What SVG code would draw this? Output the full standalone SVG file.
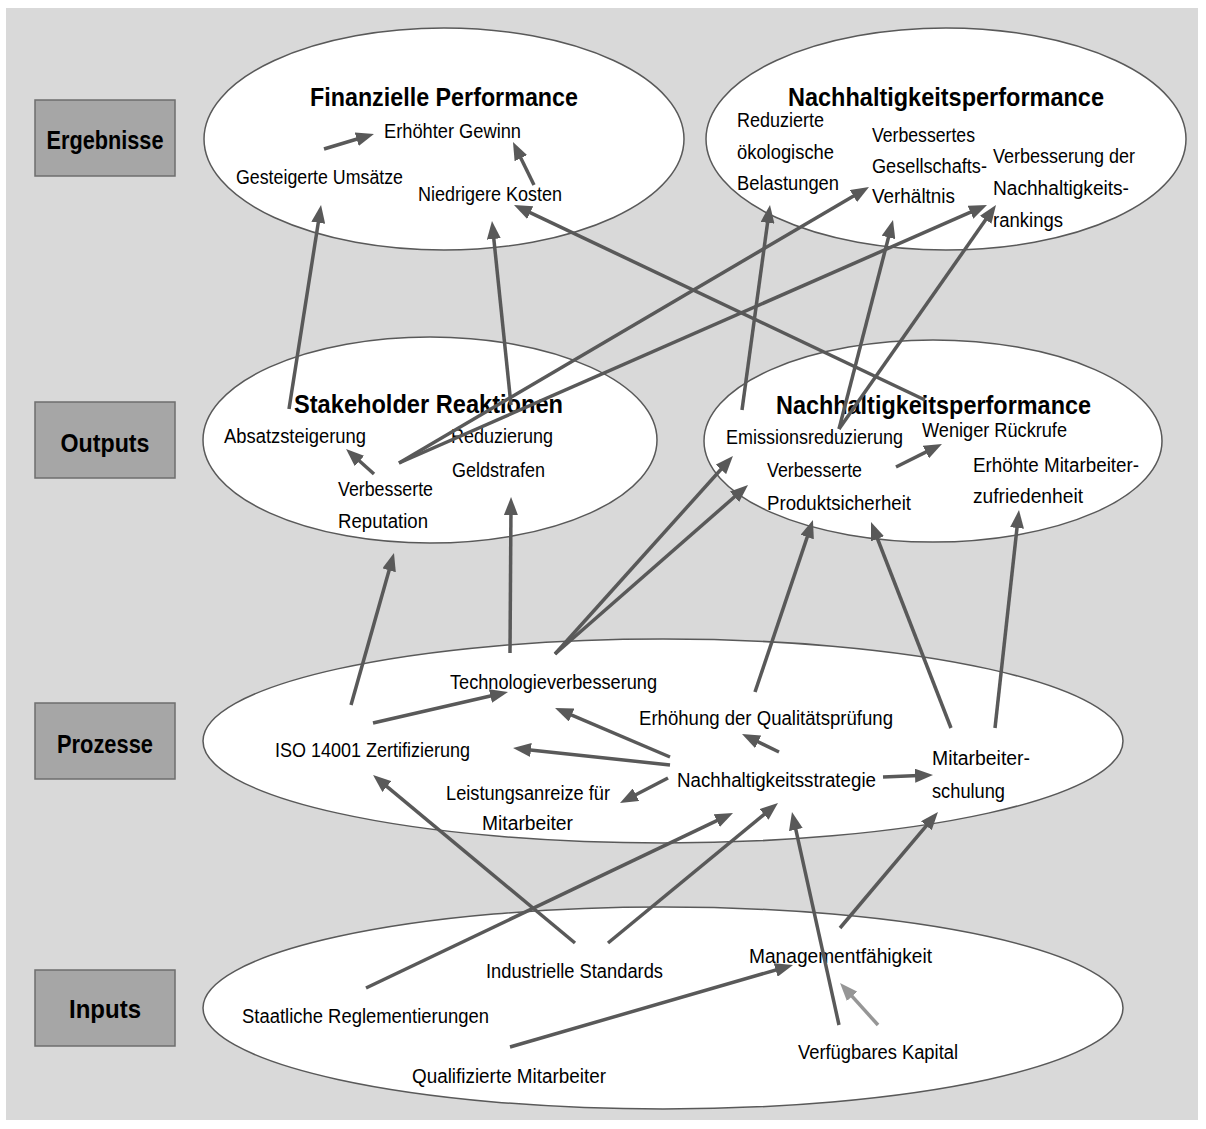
<svg xmlns="http://www.w3.org/2000/svg" width="1206" height="1129" viewBox="0 0 1206 1129">
  <style>
    .bg { fill: #d9d9d9; }
    .cat rect { fill: #a6a6a6; stroke: #6e6e6e; stroke-width: 1.5; }
    .cat text { font-family: "Liberation Sans Narrow", "Liberation Sans", sans-serif; font-weight: bold; font-size: 25px; fill: #000; text-anchor: middle; }
    .layer { fill: #ffffff; stroke: #595959; stroke-width: 1.5; }
    .title { font-family: "Liberation Sans Narrow", "Liberation Sans", sans-serif; font-weight: bold; font-size: 25px; fill: #000; }
    .lbl { font-family: "Liberation Sans Narrow", "Liberation Sans", sans-serif; font-size: 20px; fill: #000; }
    .conn line { stroke: #595959; stroke-width: 3.5; fill: none; marker-end: url(#head); }
    .conn line.light { stroke: #969696; marker-end: url(#headLight); }
  </style>
  <defs>
    <marker id="head" markerUnits="userSpaceOnUse" markerWidth="18" markerHeight="14" refX="10" refY="7" orient="auto">
      <path d="M0,0 L18,7 L0,14 z" fill="#595959"/>
    </marker>
    <marker id="headLight" markerUnits="userSpaceOnUse" markerWidth="18" markerHeight="14" refX="10" refY="7" orient="auto">
      <path d="M0,0 L18,7 L0,14 z" fill="#969696"/>
    </marker>
  </defs>

  <rect class="bg" x="6" y="8" width="1192" height="1112"/>

  <!-- level labels -->
  <g id="cat-ergebnisse" class="cat">
    <rect x="35" y="100" width="140" height="76"/>
    <text x="105" y="149" textLength="117" lengthAdjust="spacingAndGlyphs">Ergebnisse</text>
  </g>
  <g id="cat-outputs" class="cat">
    <rect x="35" y="402" width="140" height="76"/>
    <text x="105" y="452" textLength="89" lengthAdjust="spacingAndGlyphs">Outputs</text>
  </g>
  <g id="cat-prozesse" class="cat">
    <rect x="35" y="703" width="140" height="76"/>
    <text x="105" y="753" textLength="96" lengthAdjust="spacingAndGlyphs">Prozesse</text>
  </g>
  <g id="cat-inputs" class="cat">
    <rect x="35" y="970" width="140" height="76"/>
    <text x="105" y="1018" textLength="72" lengthAdjust="spacingAndGlyphs">Inputs</text>
  </g>

  <!-- Ergebnisse: Finanzielle Performance -->
  <g id="finanzielle-performance">
    <ellipse class="layer" cx="444" cy="139" rx="240" ry="111"/>
    <text class="title" x="310" y="106" textLength="268" lengthAdjust="spacingAndGlyphs">Finanzielle Performance</text>
  </g>
  <g id="erhoehter-gewinn"><text class="lbl" x="384" y="138" textLength="137" lengthAdjust="spacingAndGlyphs">Erhöhter Gewinn</text></g>
  <g id="gesteigerte-umsaetze"><text class="lbl" x="236" y="184" textLength="167" lengthAdjust="spacingAndGlyphs">Gesteigerte Umsätze</text></g>
  <g id="niedrigere-kosten"><text class="lbl" x="418" y="201" textLength="144" lengthAdjust="spacingAndGlyphs">Niedrigere Kosten</text></g>

  <!-- Ergebnisse: Nachhaltigkeitsperformance -->
  <g id="nachhaltigkeitsperformance-ergebnis">
    <ellipse class="layer" cx="946" cy="139" rx="240" ry="111"/>
    <text class="title" x="788" y="106" textLength="316" lengthAdjust="spacingAndGlyphs">Nachhaltigkeitsperformance</text>
  </g>
  <g id="reduzierte-belastungen">
    <text class="lbl" x="737" y="127" textLength="87" lengthAdjust="spacingAndGlyphs">Reduzierte</text>
    <text class="lbl" x="737" y="159" textLength="97" lengthAdjust="spacingAndGlyphs">ökologische</text>
    <text class="lbl" x="737" y="190" textLength="102" lengthAdjust="spacingAndGlyphs">Belastungen</text>
  </g>
  <g id="gesellschaftsverhaeltnis">
    <text class="lbl" x="872" y="142" textLength="103" lengthAdjust="spacingAndGlyphs">Verbessertes</text>
    <text class="lbl" x="872" y="173" textLength="115" lengthAdjust="spacingAndGlyphs">Gesellschafts-</text>
    <text class="lbl" x="872" y="203" textLength="83" lengthAdjust="spacingAndGlyphs">Verhältnis</text>
  </g>
  <g id="nachhaltigkeitsrankings">
    <text class="lbl" x="993" y="163" textLength="142" lengthAdjust="spacingAndGlyphs">Verbesserung der</text>
    <text class="lbl" x="993" y="195" textLength="136" lengthAdjust="spacingAndGlyphs">Nachhaltigkeits-</text>
    <text class="lbl" x="993" y="227" textLength="70" lengthAdjust="spacingAndGlyphs">rankings</text>
  </g>

  <!-- Outputs: Stakeholder Reaktionen -->
  <g id="stakeholder-reaktionen">
    <ellipse class="layer" cx="430" cy="440" rx="227" ry="103"/>
    <text class="title" x="294" y="413" textLength="269" lengthAdjust="spacingAndGlyphs">Stakeholder Reaktionen</text>
  </g>
  <g id="absatzsteigerung"><text class="lbl" x="224" y="443" textLength="142" lengthAdjust="spacingAndGlyphs">Absatzsteigerung</text></g>
  <g id="reduzierung-geldstrafen">
    <text class="lbl" x="451" y="443" textLength="102" lengthAdjust="spacingAndGlyphs">Reduzierung</text>
    <text class="lbl" x="452" y="477" textLength="93" lengthAdjust="spacingAndGlyphs">Geldstrafen</text>
  </g>
  <g id="verbesserte-reputation">
    <text class="lbl" x="338" y="496" textLength="95" lengthAdjust="spacingAndGlyphs">Verbesserte</text>
    <text class="lbl" x="338" y="528" textLength="90" lengthAdjust="spacingAndGlyphs">Reputation</text>
  </g>

  <!-- Outputs: Nachhaltigkeitsperformance -->
  <g id="nachhaltigkeitsperformance-output">
    <ellipse class="layer" cx="933" cy="441" rx="229" ry="101"/>
    <text class="title" x="776" y="414" textLength="315" lengthAdjust="spacingAndGlyphs">Nachhaltigkeitsperformance</text>
  </g>
  <g id="emissionsreduzierung"><text class="lbl" x="726" y="444" textLength="177" lengthAdjust="spacingAndGlyphs">Emissionsreduzierung</text></g>
  <g id="weniger-rueckrufe"><text class="lbl" x="922" y="437" textLength="145" lengthAdjust="spacingAndGlyphs">Weniger Rückrufe</text></g>
  <g id="produktsicherheit">
    <text class="lbl" x="767" y="477" textLength="95" lengthAdjust="spacingAndGlyphs">Verbesserte</text>
    <text class="lbl" x="767" y="510" textLength="144" lengthAdjust="spacingAndGlyphs">Produktsicherheit</text>
  </g>
  <g id="mitarbeiterzufriedenheit">
    <text class="lbl" x="973" y="472" textLength="166" lengthAdjust="spacingAndGlyphs">Erhöhte Mitarbeiter-</text>
    <text class="lbl" x="973" y="503" textLength="110" lengthAdjust="spacingAndGlyphs">zufriedenheit</text>
  </g>

  <!-- Prozesse -->
  <g id="prozesse">
    <ellipse class="layer" cx="663" cy="741" rx="460" ry="102"/>
  </g>
  <g id="technologieverbesserung"><text class="lbl" x="450" y="689" textLength="207" lengthAdjust="spacingAndGlyphs">Technologieverbesserung</text></g>
  <g id="iso-14001"><text class="lbl" x="275" y="757" textLength="195" lengthAdjust="spacingAndGlyphs">ISO 14001 Zertifizierung</text></g>
  <g id="leistungsanreize">
    <text class="lbl" x="446" y="800" textLength="164" lengthAdjust="spacingAndGlyphs">Leistungsanreize für</text>
    <text class="lbl" x="482" y="830" textLength="91" lengthAdjust="spacingAndGlyphs">Mitarbeiter</text>
  </g>
  <g id="qualitaetspruefung"><text class="lbl" x="639" y="725" textLength="254" lengthAdjust="spacingAndGlyphs">Erhöhung der Qualitätsprüfung</text></g>
  <g id="nachhaltigkeitsstrategie"><text class="lbl" x="677" y="787" textLength="199" lengthAdjust="spacingAndGlyphs">Nachhaltigkeitsstrategie</text></g>
  <g id="mitarbeiterschulung">
    <text class="lbl" x="932" y="765" textLength="98" lengthAdjust="spacingAndGlyphs">Mitarbeiter-</text>
    <text class="lbl" x="932" y="798" textLength="73" lengthAdjust="spacingAndGlyphs">schulung</text>
  </g>

  <!-- Inputs -->
  <g id="inputs">
    <ellipse class="layer" cx="663" cy="1008" rx="460" ry="101"/>
  </g>
  <g id="industrielle-standards"><text class="lbl" x="486" y="978" textLength="177" lengthAdjust="spacingAndGlyphs">Industrielle Standards</text></g>
  <g id="staatliche-reglementierungen"><text class="lbl" x="242" y="1023" textLength="247" lengthAdjust="spacingAndGlyphs">Staatliche Reglementierungen</text></g>
  <g id="qualifizierte-mitarbeiter"><text class="lbl" x="412" y="1083" textLength="194" lengthAdjust="spacingAndGlyphs">Qualifizierte Mitarbeiter</text></g>
  <g id="managementfaehigkeit"><text class="lbl" x="749" y="963" textLength="183" lengthAdjust="spacingAndGlyphs">Managementfähigkeit</text></g>
  <g id="verfuegbares-kapital"><text class="lbl" x="798" y="1059" textLength="160" lengthAdjust="spacingAndGlyphs">Verfügbares Kapital</text></g>

  <!-- connectors -->
  <g id="connectors" class="conn">
    <line x1="324" y1="149" x2="366.3" y2="136.3"/>
    <line x1="534" y1="185" x2="516.5" y2="149.2"/>
    <line x1="289" y1="409" x2="319.8" y2="212.9"/>
    <line x1="511" y1="405" x2="492.8" y2="229"/>
    <line x1="925" y1="400" x2="521.2" y2="208.4"/>
    <line x1="399" y1="463" x2="862.1" y2="191"/>
    <line x1="399" y1="463" x2="979.7" y2="208.2"/>
    <line x1="742" y1="410" x2="768.9" y2="212.9"/>
    <line x1="839" y1="429" x2="891" y2="227.7"/>
    <line x1="839" y1="429" x2="991.4" y2="211.6"/>
    <line x1="670" y1="757" x2="562.4" y2="711.1"/>
    <line x1="670" y1="765" x2="521" y2="748.9"/>
    <line x1="668" y1="778" x2="627.1" y2="799.3"/>
    <line x1="779" y1="752" x2="749.2" y2="737.5"/>
    <line x1="883" y1="777" x2="925" y2="775.3"/>
    <line x1="373" y1="723" x2="500.2" y2="693.8"/>
    <line x1="351" y1="705" x2="391.8" y2="560.7"/>
    <line x1="510" y1="653" x2="511" y2="505"/>
    <line x1="555" y1="654" x2="727.6" y2="462"/>
    <line x1="555" y1="654" x2="742" y2="490.3"/>
    <line x1="755" y1="692" x2="810.4" y2="527.6"/>
    <line x1="951" y1="728" x2="873.9" y2="529.5"/>
    <line x1="995" y1="728" x2="1018.1" y2="518"/>
    <line x1="896" y1="467" x2="934.8" y2="447.6"/>
    <line x1="374" y1="474" x2="352" y2="454.3"/>
    <line x1="575" y1="943" x2="379.2" y2="780.1"/>
    <line x1="608" y1="943" x2="771.8" y2="808.1"/>
    <line x1="366" y1="988" x2="725.8" y2="816.4"/>
    <line x1="839" y1="1025" x2="793.7" y2="819.8"/>
    <line x1="840" y1="928" x2="932.8" y2="818.1"/>
    <line x1="510" y1="1047" x2="785.3" y2="967.2"/>
    <line class="light" x1="878" y1="1025" x2="845.4" y2="988.9"/>
  </g>
</svg>
